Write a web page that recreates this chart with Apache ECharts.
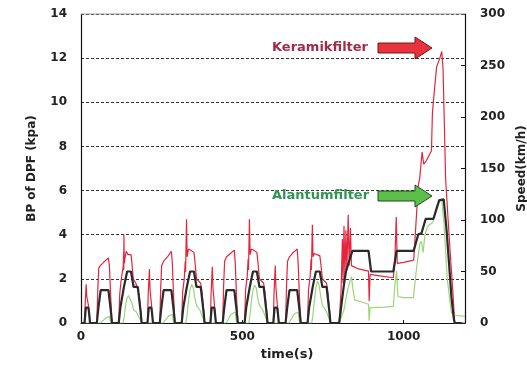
<!DOCTYPE html>
<html>
<head>
<meta charset="utf-8">
<script src="https://cdn.jsdelivr.net/npm/echarts/dist/echarts.min.js"></script>
<style>
html,body{margin:0;padding:0;background:#fff;}
#chart{width:527px;height:369px;}
</style>
</head>
<body>
<div id="chart"></div>
<script>
// ---- data ----
const xTicks = [0, 500, 1000];
const leftTicks = [0, 2, 4, 6, 8, 10, 12, 14];
const rightTicks = [0, 50, 100, 150, 200, 250, 300];
const xTitle = 'time(s)';
const leftTitle = 'BP of DPF (kpa)';
const rightTitle = 'Speed(km/h)';
const labelKeramik = 'Keramikfilter';
const labelAlantum = 'Alantumfilter';

// Keramikfilter back pressure [time s, kPa]
const keramik = [
  [0,0],[11,0],[13,0.9],[16,1.75],[18,1.2],[23,0.8],[26,0.4],[28,0],[49,0],[52,1.5],[55,2.5],[60,2.6],[70,2.75],[85,2.95],[88,2.6],[92,1.2],[96,0],
  [117,0],[120,1.3],[124,1.9],[128,2.3],[131,2.6],[132,3.2],[132.5,2.4],[133,4.0],[134,2.7],[137,3.0],[140,3.25],[146,3.1],[155,3.1],[158,2.7],[162,2.0],[170,1.8],[176,1.75],[180,1.3],[185,0.6],[188,0],
  [195,0],[206,0],[208,1.2],[212,2.45],[214,1.5],[218,0.9],[223,0],[244,0],[247,1.6],[250,2.6],[256,2.8],[268,3.0],[280,3.25],[283,2.7],[287,1.2],[291,0],
  [312,0],[315,1.4],[320,2.0],[323,2.8],[324,2.3],[327,4.7],[329,3.0],[333,3.35],[340,3.3],[350,3.2],[353,2.8],[358,2.0],[371,1.8],[375,1.4],[380,0.6],[383,0],
  [390,0],[401,0],[403,1.3],[407,2.55],[409,1.6],[413,0.9],[418,0],[439,0],[442,1.7],[445,2.8],[451,3.0],[463,3.15],[475,3.3],[478,2.7],[482,1.2],[486,0],
  [507,0],[510,1.5],[515,2.1],[518,2.9],[519,2.4],[522,4.7],[524,3.1],[528,3.35],[535,3.3],[545,3.2],[548,2.8],[553,2.0],[566,1.8],[570,1.4],[575,0.6],[578,0],
  [585,0],[596,0],[598,1.3],[602,2.6],[604,1.6],[608,0.9],[613,0],[634,0],[637,1.7],[640,2.8],[646,3.0],[658,3.2],[670,3.35],[673,2.7],[677,1.2],[681,0],
  [702,0],[705,1.5],[710,2.1],[713,2.9],[714,2.4],[717,4.45],[719,3.0],[723,3.15],[730,3.1],[740,3.05],[743,2.7],[748,2.0],[761,1.8],[765,1.4],[770,0.6],[773,0],
  [780,0],[800,0],[806,1.5],[810,3.8],[812,1.8],[815,4.4],[818,2.0],[821,4.2],[824,2.4],[828,4.9],[831,2.6],[835,4.3],[838,2.6],[841,2.55],[860,2.45],[891,2.35],[893,1.0],[896,2.2],
  [920,2.15],[968,2.05],[973,3.0],[977,4.8],[980,2.7],[1000,2.75],[1031,2.85],[1038,4.5],[1045,6.2],[1050,6.6],[1057,7.75],[1062,7.2],[1070,7.35],[1086,7.8],[1089,9.5],[1093,10.2],
  [1102,11.6],[1112,12.0],[1118,12.3],[1122,11.5],[1130,6.5],[1138,4.6],[1145,3.0],[1152,1.5],[1158,0],[1190,0]
];

// Alantumfilter back pressure [time s, kPa]
const alantum = [
  [0,0],[60,0],[75,0.2],[88,0.3],[92,0],[130,0],[134,0.3],[138,0.8],[142,1.1],[147,1.25],[153,1.2],[158,0.9],[163,0.6],[172,0.5],[180,0.25],[188,0],
  [255,0],[270,0.3],[283,0.4],[287,0],[325,0],[329,0.4],[333,1.0],[338,1.5],[343,1.75],[348,1.6],[353,1.1],[358,0.8],[368,0.6],[376,0.3],[383,0],
  [450,0],[465,0.4],[478,0.5],[482,0],[520,0],[524,0.4],[528,1.0],[533,1.5],[538,1.7],[543,1.6],[548,1.1],[553,0.8],[563,0.6],[571,0.3],[578,0],
  [645,0],[660,0.4],[673,0.5],[677,0],[715,0],[719,0.4],[723,1.0],[728,1.6],[733,1.9],[738,1.7],[743,1.2],[748,0.8],[758,0.6],[766,0.3],[773,0],
  [800,0],[815,0.6],[825,1.4],[832,1.8],[838,2.1],[843,1.5],[848,1.05],[870,0.95],[891,0.85],[893,0.1],[896,0.7],[940,0.72],[968,0.75],
  [973,1.8],[978,2.35],[982,1.2],[1000,1.15],[1030,1.15],[1040,2.5],[1050,3.6],[1055,3.7],[1060,3.2],[1066,4.0],[1075,4.4],[1090,4.55],[1100,5.2],[1110,5.6],[1118,5.6],
  [1125,4.5],[1135,2.0],[1148,0.45],[1160,0.35],[1190,0.3]
];

// Vehicle speed [time s, km/h]
const speed = [
  [0,0],[11,0],[15,15],[23,15],[25,10],[28,0],[49,0],[54,15],[56,15],[61,32],[85,32],[93,10],[96,0],
  [117,0],[122,15],[124,15],[133,35],[135,35],[143,50],[155,50],[163,35],[176,35],[178,35],[185,10],[188,0],
  [195,0],[206,0],[210,15],[218,15],[220,10],[223,0],[244,0],[249,15],[251,15],[256,32],[280,32],[288,10],[291,0],
  [312,0],[317,15],[319,15],[328,35],[330,35],[338,50],[350,50],[358,35],[371,35],[373,35],[380,10],[383,0],
  [390,0],[401,0],[405,15],[413,15],[415,10],[418,0],[439,0],[444,15],[446,15],[451,32],[475,32],[483,10],[486,0],
  [507,0],[512,15],[514,15],[523,35],[525,35],[533,50],[545,50],[553,35],[566,35],[568,35],[575,10],[578,0],
  [585,0],[596,0],[600,15],[608,15],[610,10],[613,0],[634,0],[639,15],[641,15],[646,32],[670,32],[678,10],[681,0],
  [702,0],[707,15],[709,15],[718,35],[720,35],[728,50],[740,50],[748,35],[761,35],[763,35],[770,10],[773,0],
  [780,0],[800,0],[806,15],[808,15],[814,35],[816,35],[821,50],[823,50],[841,70],[891,70],[899,50],[968,50],[978,70],
  [1031,70],[1045,86],[1055,87],[1068,101],[1092,101],[1110,119],[1124,120],[1133,90],[1140,60],[1148,25],[1155,5],[1158,0],[1180,0]
];

// ---- chart ----
const FONT = 'DejaVu Sans';
const chart = echarts.init(document.getElementById('chart'), null, {renderer: 'canvas'});
const labelStyle = {color: '#222', fontFamily: FONT, fontWeight: 'bold', fontSize: 12};

chart.setOption({
  animation: false,
  backgroundColor: '#ffffff',
  grid: {left: 81, right: 62, top: 14, bottom: 46, containLabel: false, outerBoundsMode: 'none'},
  xAxis: {
    type: 'value', min: xTicks[0], max: 1190, interval: 500,
    name: xTitle, nameLocation: 'middle', nameGap: 24,
    nameTextStyle: {color: '#222', fontFamily: FONT, fontWeight: 'bold', fontSize: 13, padding: [0, 0, 0, 28]},
    axisLine: {show: true, lineStyle: {color: '#111', width: 1.2}},
    axisTick: {show: true, inside: true, length: 3, lineStyle: {color: '#111'}},
    axisLabel: Object.assign({margin: 8, formatter: v => xTicks.includes(v) ? String(v) : ''}, labelStyle),
    splitLine: {show: false}
  },
  yAxis: [
    {
      type: 'value', min: leftTicks[0], max: leftTicks[leftTicks.length - 1], interval: 2,
      name: leftTitle, nameLocation: 'middle', nameGap: 43,
      nameTextStyle: {color: '#222', fontFamily: FONT, fontWeight: 'bold', fontSize: 12},
      axisLine: {show: true, lineStyle: {color: '#111', width: 1.2}},
      axisTick: {show: false},
      axisLabel: Object.assign({margin: 14}, labelStyle),
      splitLine: {show: true, lineStyle: {color: '#333', width: 1, type: [3, 2]}}
    },
    {
      type: 'value', min: rightTicks[0], max: rightTicks[rightTicks.length - 1], interval: 50,
      position: 'right',
      name: rightTitle, nameLocation: 'middle', nameGap: 48,
      nameTextStyle: {color: '#222', fontFamily: FONT, fontWeight: 'bold', fontSize: 12},
      axisLine: {show: true, lineStyle: {color: '#111', width: 1.2}},
      axisTick: {show: true, inside: true, length: 4, lineStyle: {color: '#111'}},
      axisLabel: Object.assign({margin: 15}, labelStyle),
      splitLine: {show: false}
    }
  ],
  series: [
    {name: labelKeramik, type: 'line', yAxisIndex: 0, data: keramik, showSymbol: false, symbol: 'none',
     lineStyle: {color: '#e3263e', width: 1.2}, z: 2},
    {name: labelAlantum, type: 'line', yAxisIndex: 0, data: alantum, showSymbol: false, symbol: 'none',
     lineStyle: {color: '#9ad67a', width: 1.2}, z: 3},
    {name: 'speed', type: 'line', yAxisIndex: 1, data: speed, showSymbol: false, symbol: 'none',
     lineStyle: {color: '#2a2a2a', width: 2.2}, z: 4}
  ],
  graphic: [
    {type: 'line', shape: {x1: 81, y1: 14, x2: 465, y2: 14}, style: {stroke: '#9a9a9a', lineWidth: 1}, z: 10},
    {type: 'polygon', shape: {points: [[378,43],[415,43],[415,37],[432,48],[415,59],[415,53],[378,53]]},
     style: {fill: '#e8323c', stroke: '#6b1a1a', lineWidth: 1}, z: 10},
    {type: 'polygon', shape: {points: [[378,191],[415,191],[415,185],[432,196],[415,207],[415,201],[378,201]]},
     style: {fill: '#5cbf4a', stroke: '#1f4a1f', lineWidth: 1}, z: 10},
    {type: 'text', x: 272, y: 48, style: {text: labelKeramik, fill: '#a32b46', font: 'bold 13px "DejaVu Sans"', textVerticalAlign: 'middle', verticalAlign: 'middle'}, z: 10},
    {type: 'text', x: 272, y: 196, style: {text: labelAlantum, fill: '#2e9650', font: 'bold 13px "DejaVu Sans"', textVerticalAlign: 'middle', verticalAlign: 'middle'}, z: 10}
  ]
});
</script>
</body>
</html>
